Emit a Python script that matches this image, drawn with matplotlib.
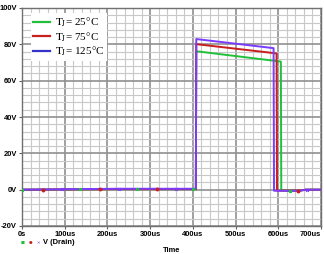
import matplotlib
matplotlib.use("Agg")
import matplotlib.pyplot as plt
from matplotlib.lines import Line2D
import numpy as np

plt.rcParams["mathtext.fontset"] = "stix"

# ---- data (time in us, voltage in V) ----
t_25 = [0, 220, 407, 408, 606, 607, 650, 665, 700]
v_25 = [0, 0.3, 0.3, 76.2, 70.5, -0.5, -0.5, 0, 0]
t_75 = [0, 220, 407, 408, 596, 597, 650, 665, 700]
v_75 = [0, 0.3, 0.3, 80.1, 75.0, -0.5, -0.5, 0, 0]
t_125 = [0, 220, 407, 408, 589, 590, 650, 665, 700]
v_125 = [0, 0.5, 0.5, 82.9, 77.9, -0.6, -0.6, 0, 0]

mk_25 = [0, 136, 269, 400, 628]
mk_75 = [49, 183, 316, 645]
mk_125 = [94, 226, 361, 667]

legend_labels = [r"$\mathrm{T_J}$= 25°C", r"$\mathrm{T_J}$= 75°C", r"$\mathrm{T_J}$= 125°C"]
x_ticks = [0, 100, 200, 300, 400, 500, 600, 700]
x_tick_labels = ["0s", "100us", "200us", "300us", "400us", "500us", "600us", "700us"]
y_ticks = [-20, 0, 20, 40, 60, 80, 100]
y_tick_labels = ["-20V", "0V", "20V", "40V", "60V", "80V", "100V"]

c_green = "#22c03a"
c_red = "#c81e1e"
c_purple = "#7a3cff"
c_blue_leg = "#3434c8"

fig = plt.figure(figsize=(3.24, 2.54), dpi=100)
ax = fig.add_axes([22/324, 28/254, 299/324, 218/254])
ax.set_xlim(0, 700)
ax.set_ylim(-20, 100)

# grid
for x in np.arange(0, 701, 20):
    major = (x % 100 == 0)
    ax.axvline(x, color="#909090" if major else "#c8c8c8", lw=1.2 if major else 0.8, zorder=0)
for y in np.arange(-20, 101, 4):
    major = (y % 20 == 0)
    ax.axhline(y, color="#909090" if major else "#c8c8c8", lw=1.2 if major else 0.8, zorder=0)

for t, v, c, mk, m in [(t_25, v_25, c_green, mk_25, "s"),
                       (t_75, v_75, c_red, mk_75, "o"),
                       (t_125, v_125, c_purple, mk_125, "x")]:
    ax.plot(t, v, color=c, lw=1.4, zorder=3)
    ax.plot(mk, np.interp(mk, t, v), ls="none", marker=m, ms=2, color=c, mew=0.8, zorder=4)

ax.set_xticks(x_ticks)
ax.set_xticklabels(x_tick_labels)
ax.set_yticks(y_ticks)
ax.set_yticklabels(y_tick_labels)
ax.tick_params(axis="both", labelsize=5.4, length=2.5, color="#606060", pad=1.2)
for lab in ax.get_xticklabels() + ax.get_yticklabels():
    lab.set_fontweight("bold")
    lab.set_fontfamily("Liberation Sans")
ax.get_xticklabels()[-1].set_horizontalalignment("right")
for s in ax.spines.values():
    s.set_color("#707070")
    s.set_linewidth(1.0)

handles = [Line2D([], [], color=c_green, lw=1.6),
           Line2D([], [], color=c_red, lw=1.6),
           Line2D([], [], color=c_blue_leg, lw=1.6)]
leg = ax.legend(handles, legend_labels, loc="upper left", bbox_to_anchor=(0.03, 0.975),
                prop={"family": "Liberation Serif", "size": 8}, frameon=True,
                handlelength=1.55, handletextpad=0.45, labelspacing=0.1,
                borderpad=0.2, borderaxespad=0, fancybox=False)
leg.get_frame().set_edgecolor("none")
leg.get_frame().set_facecolor("white")
leg.get_frame().set_alpha(1.0)

# bottom trace legend
fig.text(23/324, 1 - 243/254, "■", color=c_green, fontsize=3, ha="center", va="center")
fig.text(31/324, 1 - 243/254, "●", color=c_red, fontsize=3, ha="center", va="center")
fig.text(38/324, 1 - 243/254, "✕", color=c_purple, fontsize=3, ha="center", va="center")
fig.text(43/324, 1 - 243/254, "V (Drain)", fontsize=5.4, fontweight="bold",
         family="Liberation Sans", ha="left", va="center")
fig.text(172/324, 1 - 250/254, "Time", fontsize=5.4, fontweight="bold",
         family="Liberation Sans", ha="center", va="center")

fig.savefig("out.png", dpi=100)
